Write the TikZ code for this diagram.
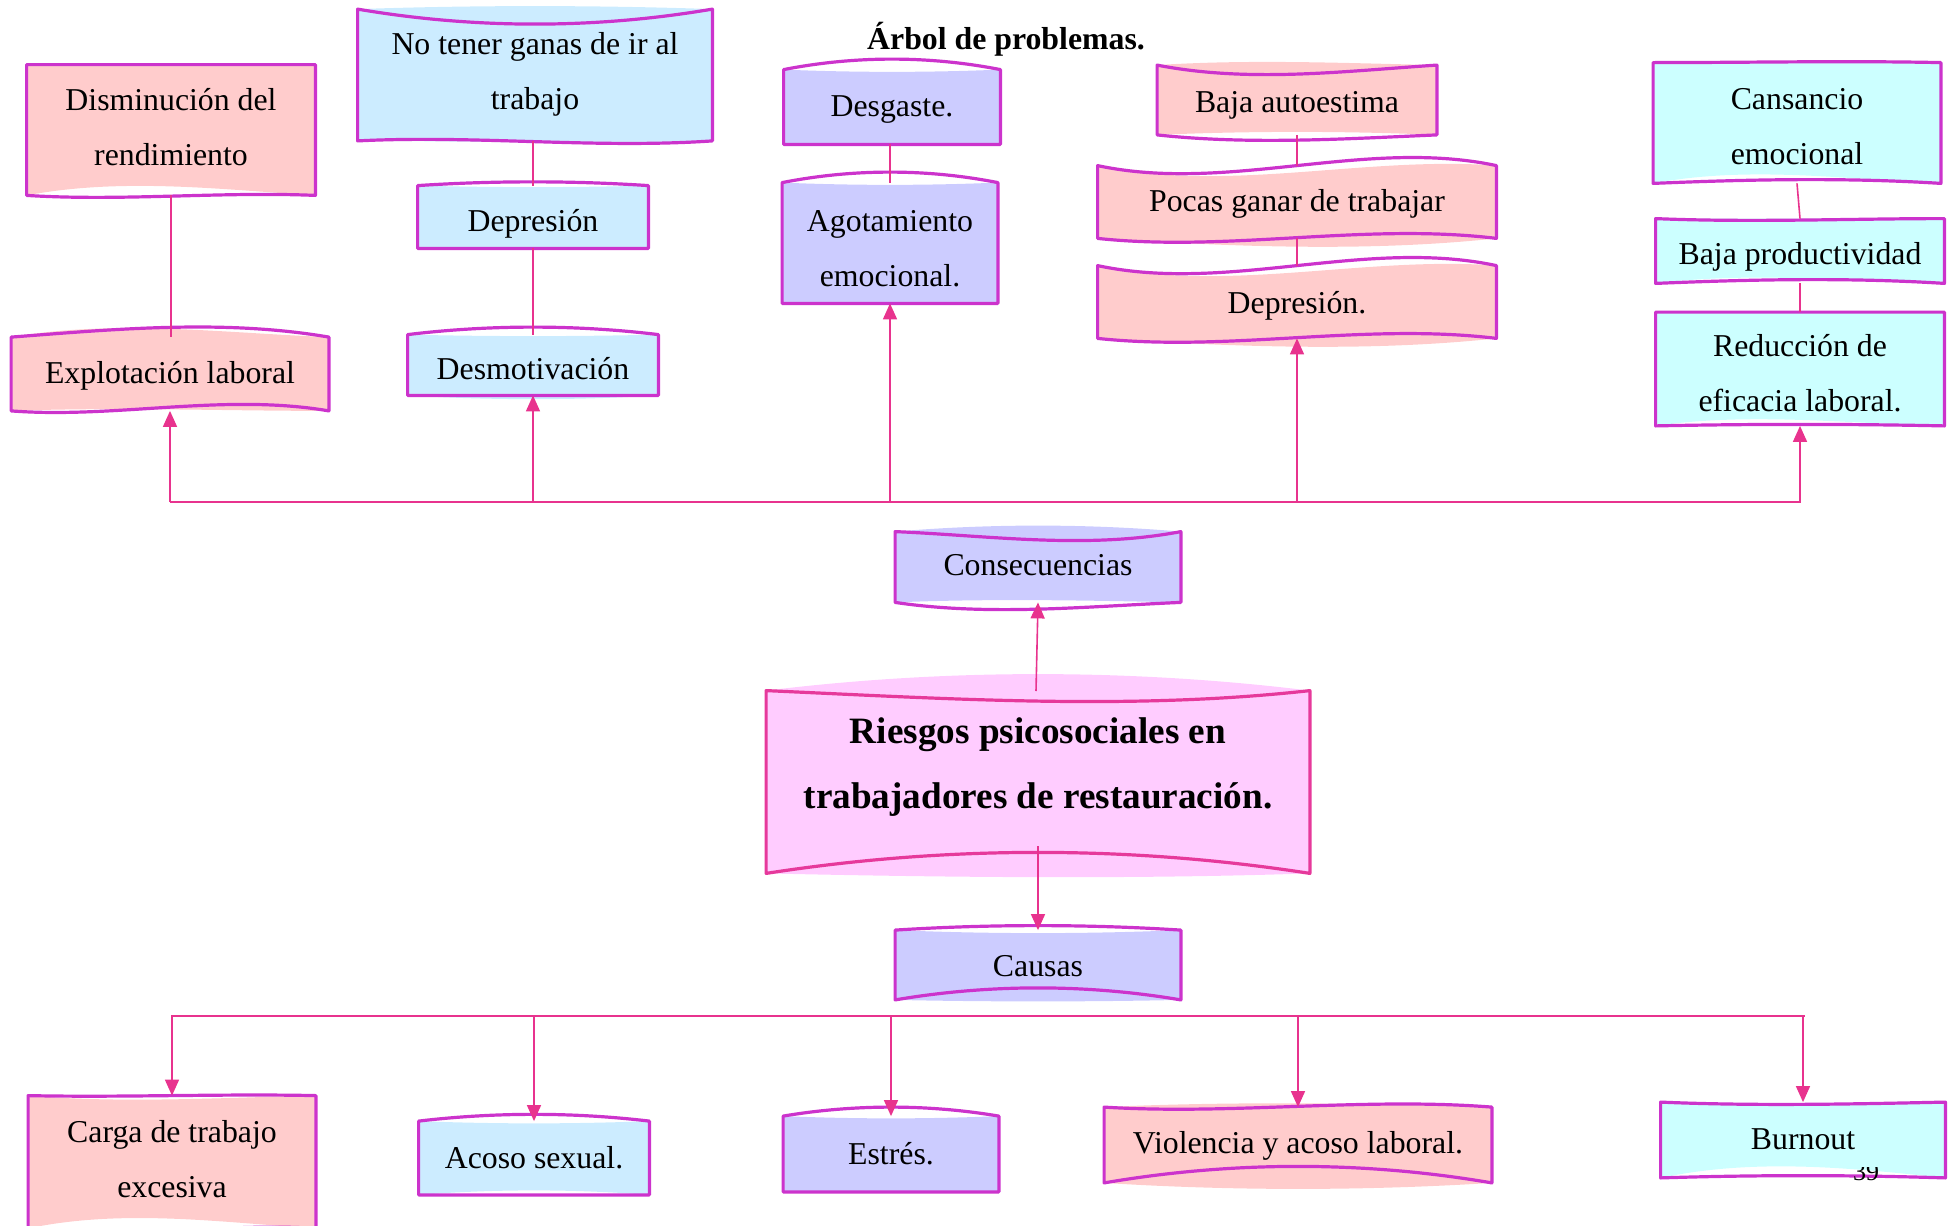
\documentclass[tikz,border=0pt]{standalone}
\usepackage{fontspec}
\setmainfont{Liberation Serif}
\usetikzlibrary{arrows.meta,calc,backgrounds}

\definecolor{bord}{HTML}{CC33CC}
\definecolor{rbord}{HTML}{E6399B}
\definecolor{conn}{HTML}{E8338E}
\definecolor{fpink}{HTML}{FFCCCC}
\definecolor{fblue}{HTML}{CCECFF}
\definecolor{flav}{HTML}{CCCCFF}
\definecolor{fcyan}{HTML}{CCFFFF}
\definecolor{fmag}{HTML}{FFCCFF}

% #1 node, #2 fill colour, #3 #4 top controls, #5 #6 bottom controls (left, right); positive = down
\newcommand\wfill[6]{\fill[#2] (#1.north west) .. controls ($(#1.north west)!0.33!(#1.north east)+(0,#3)$) and ($(#1.north west)!0.67!(#1.north east)+(0,#4)$) .. (#1.north east) -- (#1.south east) .. controls ($(#1.south east)!0.33!(#1.south west)+(0,#6)$) and ($(#1.south east)!0.67!(#1.south west)+(0,#5)$) .. (#1.south west) -- cycle;}
\newcommand\wline[6]{\draw[#2] (#1.north west) .. controls ($(#1.north west)!0.33!(#1.north east)+(0,#3)$) and ($(#1.north west)!0.67!(#1.north east)+(0,#4)$) .. (#1.north east) -- (#1.south east) .. controls ($(#1.south east)!0.33!(#1.south west)+(0,#6)$) and ($(#1.south east)!0.67!(#1.south west)+(0,#5)$) .. (#1.south west) -- cycle;}
% text block raised by #1 without changing its box
\newcommand\tx[2]{\raisebox{#1}[\height][\depth]{\begin{tabular}{@{}c@{}}#2\end{tabular}}}

\tikzset{
  wb/.style 2 args={minimum width=#1*0.5pt, minimum height=#2*0.5pt, inner sep=0pt, align=center, font=\fontsize{15.9pt}{27.5pt}\selectfont},
  arr/.style={draw=conn, line width=0.8pt, -{Triangle[length=8pt,width=7pt]}},
  cl/.style={draw=conn, line width=0.8pt},
  bl/.style={draw=bord, line width=1.6pt, line join=round},
  rbl/.style={draw=rbord, line width=1.6pt, line join=round}
}

\begin{document}
\begin{tikzpicture}[x=0.5pt,y=-0.5pt]
\useasboundingbox (0,0) rectangle (1950,1226);

\node[font=\fontsize{15.9pt}{19pt}\selectfont\bfseries] (title) at (1006,39) {Árbol de problemas.};

% top row
\node[wb={288}{130}] (dism) at (171,130) {\tx{1.7pt}{Disminución del\\rendimiento}};
\node[wb={354}{131}] (notener) at (535,75) {\tx{1.8pt}{No tener ganas de ir al\\trabajo}};
\node[wb={230}{62}] (dep1) at (533,217) {\tx{-1.9pt}{Depresión}};
\node[wb={250}{60}] (desmot) at (533,365) {\tx{-1.75pt}{Desmotivación}};
\node[wb={317}{73}] (explot) at (170,374) {\tx{0.55pt}{Explotación laboral}};
\node[wb={216}{74}] (desg) at (892,107) {\tx{0.55pt}{Desgaste.}};
\node[wb={215}{120}] (agot) at (890,243) {\tx{-2.35pt}{Agotamiento\\emocional.}};
\node[wb={279}{69}] (bajaA) at (1297,100) {\tx{-0.7pt}{Baja autoestima}};
\node[wb={398}{72}] (pocas) at (1297,202) {\tx{0.55pt}{Pocas ganar de trabajar}};
\node[wb={398}{72}] (dep2) at (1297,302) {\tx{-0.1pt}{Depresión.}};
\node[wb={287}{120}] (cans) at (1797,123) {\tx{-1.45pt}{Cansancio\\emocional}};
\node[wb={288}{64}] (bajaP) at (1800,251) {\tx{-1.3pt}{Baja productividad}};
\node[wb={288}{113}] (reduc) at (1800,369) {\tx{-1.75pt}{Reducción de\\eficacia laboral.}};

% middle
\node[wb={285}{70}] (conse) at (1038,567) {\tx{1.2pt}{Consecuencias}};
\node[wb={543}{182}, font=\fontsize{18.6pt}{32.5pt}\selectfont\bfseries] (riesgos) at (1038,782)
  {\tx{9.3pt}{Riesgos psicosociales en\\trabajadores de restauración.}};
\node[wb={285}{69}] (causas) at (1038,965) {\tx{-0.45pt}{Causas}};

% bottom row
\node[wb={287}{132}] (carga) at (172,1162) {\tx{1.4pt}{Carga de trabajo\\excesiva}};
\node[wb={230}{73}] (acoso) at (534,1158) {\tx{0.15pt}{Acoso sexual.}};
\node[wb={215}{75}] (estres) at (891,1154) {\tx{0.15pt}{Estrés.}};
\node[wb={387}{75}] (viol) at (1298,1145) {\tx{1.2pt}{Violencia y acoso laboral.}};
\node[wb={284}{75}] (burn) at (1803,1140) {\tx{0.75pt}{Burnout}};

\begin{pgfonlayer}{background}
\wfill{dism}{fpink}{0}{0}{-18}{-6}      \wline{dism}{bl}{0}{0}{6}{-4}
\wfill{notener}{fblue}{-4}{-4}{0}{4}    \wline{notener}{bl}{20}{20}{-6}{8}
\wfill{dep1}{fblue}{2}{2}{0}{0}         \wline{dep1}{bl}{-5}{-5}{0}{0}
\wfill{desmot}{fblue}{2}{2}{5}{5}       \wline{desmot}{bl}{-10}{-10}{0}{0}
\wfill{explot}{fpink}{-18}{-4}{-4}{0}   \wline{explot}{bl}{-8}{-18}{8}{-18}
\wfill{desg}{flav}{3}{3}{0}{0}          \wline{desg}{bl}{-14}{-14}{0}{0}
\wfill{agot}{flav}{3}{3}{0}{0}          \wline{agot}{bl}{-14}{-14}{0}{0}
\wfill{bajaA}{fpink}{-6}{-2}{-4}{-4}    \wline{bajaA}{bl}{18}{6}{10}{4}
\wfill{pocas}{fpink}{28}{-10}{8}{14}    \wline{pocas}{bl}{28}{-28}{14}{-16}
\wfill{dep2}{fpink}{28}{-10}{8}{14}     \wline{dep2}{bl}{28}{-28}{14}{-16}
\wfill{cans}{fcyan}{0}{0}{-18}{-4}      \wline{cans}{bl}{0}{-2}{-4}{-6}
\wfill{bajaP}{fcyan}{0}{0}{-12}{-2}     \wline{bajaP}{bl}{4}{0}{-4}{-6}
\wfill{reduc}{fcyan}{0}{0}{-14}{-2}     \wline{reduc}{bl}{0}{0}{-2}{-2}
\wfill{conse}{flav}{-8}{-8}{-4}{-2}     \wline{conse}{bl}{4}{18}{14}{4}
\wfill{riesgos}{fmag}{-22}{-22}{4}{6}   \wline{riesgos}{rbl}{8}{20}{-28}{-28}
\wfill{causas}{flav}{4}{4}{2}{2}        \wline{causas}{bl}{-6}{-6}{-16}{-16}
\wfill{carga}{fpink}{8}{2}{-20}{-6}     \wline{carga}{bl}{2}{-2}{12}{-6}
\wfill{acoso}{fblue}{3}{3}{-6}{-6}      \wline{acoso}{bl}{-9}{-9}{0}{0}
\wfill{estres}{flav}{3}{3}{0}{0}        \wline{estres}{bl}{-12}{-12}{0}{0}
\wfill{viol}{fpink}{-6}{-4}{8}{8}       \wline{viol}{bl}{8}{-10}{-22}{-22}
\wfill{burn}{fcyan}{2}{2}{-20}{-10}     \wline{burn}{bl}{4}{2}{-3}{-3}
\end{pgfonlayer}

% page number
\begin{scope}
\clip (1830,1167) rectangle (1900,1200);
\node[font=\fontsize{13pt}{15pt}\selectfont, inner sep=0pt] (pg) at (1866,1172) {39};
\end{scope}

% consequences tree
\coordinate (tbL) at (170,502);
\coordinate (tbR) at (1801,502);
\draw[cl] (tbL) -- (tbR);
\draw[arr] (explot.south |- tbL) -- (explot.south);
\draw[arr] (desmot.south |- tbL) -- (desmot.south);
\draw[arr] (agot.south |- tbL) -- (agot.south);
\draw[arr] (dep2.south |- tbL) -- (dep2.south);
\draw[arr] (reduc.south |- tbL) -- (reduc.south);

\draw[cl] (dism.south) -- (dism.south |- explot.north);
\draw[cl] (dep1.north |- notener.south) -- (dep1.north);
\draw[cl] (dep1.south) -- (desmot.north);
\draw[cl] (agot.north |- desg.south) -- (agot.north);
\draw[cl] (bajaA.south) -- (pocas.north);
\draw[cl] (pocas.south) -- (dep2.north);
\draw[cl] (cans.south) -- (bajaP.north);
\draw[cl] (bajaP.south) -- (reduc.north);

% center
\coordinate (rt) at (1036,691);
\coordinate (rb) at (1038,846);
\draw[arr] (rt) -- (conse.south);
\draw[arr] (rb) -- (causas.north);

% causes tree
\coordinate (bbL) at (171,1016);
\coordinate (bbR) at (1805,1016);
\draw[cl] (bbL) -- (bbR);
\draw[arr] (carga.north |- bbL) -- (carga.north);
\draw[arr] (acoso.north |- bbL) -- (acoso.north);
\draw[arr] (estres.north |- bbL) -- (estres.north);
\draw[arr] (viol.north |- bbL) -- (viol.north);
\draw[arr] (burn.north |- bbL) -- (burn.north);
\end{tikzpicture}
\end{document}
